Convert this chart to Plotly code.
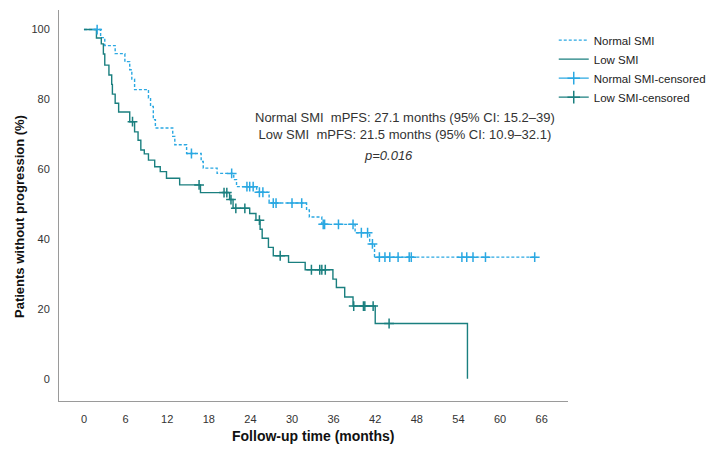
import plotly.graph_objects as go
import bisect

# ---- data ----
normal_t = [0, 2.4, 3.0, 4.5, 5.9, 6.6, 6.9, 7.3, 9.3, 9.6, 10.0, 10.3, 12.8, 13.1, 14.8,
            16.9, 17.2, 19.2, 21.6, 22.0, 24.9, 26.7, 32.1, 32.5, 34.3, 39.1, 41.2, 41.9, 65.3]
normal_s = [100, 97.7, 95.4, 93.1, 90.8, 88.5, 85.8, 82.8, 80.4, 78.0, 74.2, 71.8, 69.4, 67.0, 64.5,
            62.2, 60.3, 58.8, 57.0, 55.0, 53.4, 50.3, 48.3, 46.3, 44.2, 41.8, 38.6, 34.8, 34.8]
normal_cens = [1.9, 15.5, 21.3, 23.5, 23.9, 24.4, 25.3, 25.8, 27.3, 27.7, 30.0, 31.4,
               34.5, 34.7, 36.7, 38.8, 40.0, 40.9, 41.6, 42.6, 43.4, 44.1, 45.3, 46.9, 47.2,
               54.5, 55.2, 56.1, 57.9, 65.0]

low_t = [0, 1.8, 2.5, 2.8, 3.0, 3.6, 4.0, 4.1, 4.5, 5.0, 6.6, 7.3, 7.8, 8.2, 8.7, 9.3,
         10.2, 11.0, 11.9, 13.8, 16.8, 21.0, 21.5, 23.9, 24.8, 25.4, 25.7, 26.6, 27.3,
         29.5, 31.9, 35.9, 36.4, 37.6, 38.8, 42.0, 55.3]
low_s = [100, 97.6, 95.9, 93.0, 89.8, 87.0, 84.3, 81.5, 78.9, 76.4, 73.6, 70.7, 68.3, 65.5, 64.4, 62.6,
         60.7, 59.3, 57.4, 55.5, 53.3, 51.3, 48.8, 47.3, 45.4, 42.8, 40.2, 37.6, 35.2,
         33.3, 31.2, 28.5, 26.1, 23.4, 20.8, 15.8, 0]
low_cens = [7.0, 16.6, 20.2, 20.6, 21.2, 21.9, 23.2, 25.3, 28.3, 32.8, 34.0, 34.3, 34.8,
            38.9, 40.3, 40.5, 41.7, 44.0]

x_ticks = [0, 6, 12, 18, 24, 30, 36, 42, 48, 54, 60, 66]
y_ticks = [0, 20, 40, 60, 80, 100]

NORMAL_C = "#2aa8e2"
LOW_C = "#1a7f7f"


def surv_at(ts, ss, t):
    i = bisect.bisect_right(ts, t) - 1
    return ss[max(i, 0)]


fig = go.Figure()

fig.add_trace(go.Scatter(x=normal_t, y=normal_s, mode="lines", line_shape="hv",
                         line=dict(color=NORMAL_C, width=1.4, dash="3px,2px"),
                         name="Normal SMI"))
fig.add_trace(go.Scatter(x=low_t, y=low_s, mode="lines", line_shape="hv",
                         line=dict(color=LOW_C, width=1.4),
                         name="Low SMI"))

fig.add_trace(go.Scatter(x=normal_cens, y=[surv_at(normal_t, normal_s, t) for t in normal_cens],
                         mode="markers", showlegend=False,
                         marker=dict(symbol="cross-thin", size=7, line=dict(color=NORMAL_C, width=1.5))))
fig.add_trace(go.Scatter(x=low_cens, y=[surv_at(low_t, low_s, t) for t in low_cens],
                         mode="markers", showlegend=False,
                         marker=dict(symbol="cross-thin", size=7, line=dict(color=LOW_C, width=1.5))))

# legend-only entries for censor marks
fig.add_trace(go.Scatter(x=[None], y=[None], mode="lines+markers", name="Normal SMI-censored",
                         line=dict(color=NORMAL_C, width=1.4),
                         marker=dict(symbol="cross-thin", size=9, line=dict(color=NORMAL_C, width=1.5))))
fig.add_trace(go.Scatter(x=[None], y=[None], mode="lines+markers", name="Low SMI-censored",
                         line=dict(color=LOW_C, width=1.4),
                         marker=dict(symbol="cross-thin", size=9, line=dict(color=LOW_C, width=1.5))))

FONT = "Arial, Liberation Sans, sans-serif"

fig.update_layout(
    width=710, height=450,
    margin=dict(l=59, r=142, t=10, b=49, autoexpand=False),
    paper_bgcolor="white", plot_bgcolor="white",
    font=dict(family=FONT, color="#222"),
    showlegend=True,
    legend=dict(x=0.972, y=0.96, xanchor="left", yanchor="top",
                font=dict(size=11.5, color="#222"), itemwidth=30,
                tracegroupgap=0, bgcolor="rgba(0,0,0,0)"),
    xaxis=dict(range=[-3.6, 69.8], tickvals=x_ticks, showgrid=False, zeroline=False,
               showline=True, linecolor="#9a9a9a", linewidth=1, ticks="",
               ticklabelstandoff=8, tickfont=dict(size=11, color="#333")),
    yaxis=dict(range=[-6.4, 105.6], tickvals=y_ticks, showgrid=False, zeroline=False,
               showline=True, linecolor="#9a9a9a", linewidth=1, ticks="",
               ticklabelstandoff=6, tickfont=dict(size=11, color="#333")),
    annotations=[
        dict(text="Normal SMI  mPFS: 27.1 months (95% CI: 15.2–39)<br>Low SMI  mPFS: 21.5 months (95% CI: 10.9–32.1)",
             x=405, y=126, showarrow=False,
             font=dict(size=13, color="#333")),
        dict(text="<i>p=0.016</i>", x=388, y=155, showarrow=False,
             font=dict(size=13, color="#333")),
        dict(text="<b>Follow-up time (months)</b>", x=313, y=436, showarrow=False,
             font=dict(size=14, color="#111")),
        dict(text="<b>Patients without progression (%)</b>", x=19, y=217, showarrow=False,
             textangle=-90, font=dict(size=13, color="#111")),
    ],
)

# convert pixel-placed annotations to paper coords
W, H = 710, 450
for a in fig.layout.annotations:
    px, py = a.x, a.y
    a.xref = "paper"
    a.yref = "paper"
    a.x = (px - 59) / (W - 59 - 142)
    a.y = 1 - (py - 10) / (H - 10 - 49)
    a.xanchor = "center"
    a.yanchor = "middle"

fig.write_html("out.html")
